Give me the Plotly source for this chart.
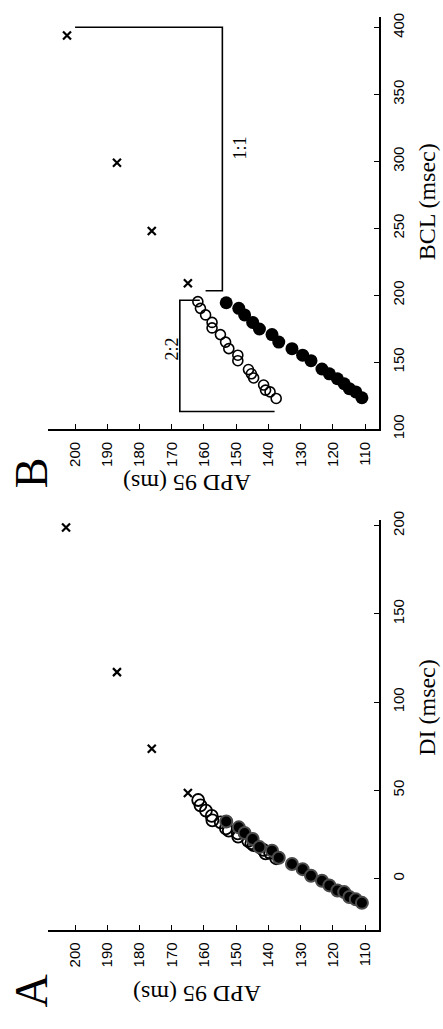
import plotly.graph_objects as go

# ---------------- data ----------------
# Panel B: APD95 against basic cycle length (BCL)
b_cross_apd = [202.5, 187.0, 176.2, 165.0]
b_cross_bcl = [394, 299, 248, 209]

b_long_apd = [161.9, 161.1, 159.5, 157.5, 157.5, 154.9, 153.3, 152.3, 149.5,
              149.5, 146.2, 145.3, 144.6, 141.5, 140.9, 139.5, 137.6]
b_long_bcl = [195.2, 190.2, 185.3, 179.7, 175.6, 170.6, 165.0, 160.1, 155.2,
              151.1, 144.5, 141.3, 138.2, 132.9, 129.1, 127.8, 122.9]

b_short_apd = [153.1, 149.2, 147.4, 144.9, 142.8, 138.9, 136.8, 132.7, 129.4,
               126.8, 123.4, 121.1, 118.6, 116.5, 114.9, 112.9, 111.0]
b_short_bcl = [194.4, 190.2, 185.3, 179.7, 174.8, 170.6, 165.0, 160.1, 155.2,
               151.1, 144.9, 141.3, 137.6, 133.9, 130.2, 127.8, 123.4]

# Panel A: APD95 against preceding diastolic interval (DI)
a_cross_apd = [202.8, 187.0, 176.2, 165.0]
a_cross_di = [199, 117, 73.6, 48.5]

a_long_apd = [161.8, 161.1, 159.4, 157.6, 157.4, 154.8, 153.2, 152.3, 149.5,
              149.4, 146.3, 145.3, 144.6, 141.6, 140.9, 139.5, 137.6]
a_long_di = [44.5, 41.5, 38.5, 35.5, 33.0, 31.8, 28.4, 27.2, 25.6,
             23.8, 21.4, 20.0, 18.9, 16.2, 14.3, 14.6, 11.5]

a_short_apd = [153.1, 149.2, 147.4, 144.9, 142.8, 138.9, 136.8, 132.7, 129.4,
               126.8, 123.4, 121.1, 118.6, 116.5, 114.9, 112.9, 111.0]
a_short_di = [32.3, 29.0, 25.8, 22.4, 17.8, 15.8, 11.8, 8.2, 5.3,
              1.6, -1.3, -3.9, -6.8, -7.7, -10.5, -11.8, -13.8]

apd_ticks = [110, 120, 130, 140, 150, 160, 170, 180, 190, 200]
bcl_ticks = [100, 150, 200, 250, 300, 350, 400]
di_ticks = [0, 50, 100, 150, 200]

# ---------------- styling ----------------
W, H = 443, 1029
SANS = "Liberation Sans, Arial, sans-serif"
SERIF = "Liberation Serif, Times New Roman, serif"

cross_marker = dict(symbol="x-thin", size=8, color="black",
                    line=dict(width=2.2, color="black"))
open_marker = dict(symbol="circle-open", size=10, color="black",
                   line=dict(width=1.6, color="black"))
filled_b_marker = dict(symbol="circle", size=13, color="black",
                       line=dict(width=0, color="black"))
open_a_marker = dict(symbol="circle", size=12, color="rgba(255,255,255,0.0)",
                     line=dict(width=1.8, color="black"))
filled_a_marker = dict(symbol="circle", size=12, color="black",
                       line=dict(width=2, color="#4a4a4a"))

fig = go.Figure()

# panel B traces (axes x / y)
fig.add_trace(go.Scatter(x=b_short_apd, y=b_short_bcl, mode="markers",
                         marker=filled_b_marker, xaxis="x", yaxis="y"))
fig.add_trace(go.Scatter(x=b_long_apd, y=b_long_bcl, mode="markers",
                         marker=open_marker, xaxis="x", yaxis="y"))
fig.add_trace(go.Scatter(x=b_cross_apd, y=b_cross_bcl, mode="markers",
                         marker=cross_marker, xaxis="x", yaxis="y"))

# panel A traces (axes x2 / y2)
fig.add_trace(go.Scatter(x=a_long_apd, y=a_long_di, mode="markers",
                         marker=open_a_marker, xaxis="x2", yaxis="y2"))
fig.add_trace(go.Scatter(x=a_short_apd, y=a_short_di, mode="markers",
                         marker=filled_a_marker, xaxis="x2", yaxis="y2"))
fig.add_trace(go.Scatter(x=a_cross_apd, y=a_cross_di, mode="markers",
                         marker=cross_marker, xaxis="x2", yaxis="y2"))


def px_x(p):
    return p / W


def px_y(p):
    return 1 - p / H


x_dom = [px_x(48), px_x(379)]

common_axis = dict(showline=True, linecolor="black", linewidth=1.5,
                   ticks="inside", ticklen=5, tickwidth=1.2, tickcolor="black",
                   showgrid=False, zeroline=False, mirror=False,
                   tickangle=-90, ticklabelstandoff=5,
                   tickfont=dict(family=SANS, size=15, color="black"))

fig.update_layout(
    width=W, height=H,
    margin=dict(l=0, r=0, t=0, b=0),
    paper_bgcolor="white", plot_bgcolor="white",
    showlegend=False,
    xaxis=dict(domain=x_dom, anchor="y", range=[208.4, 105.7],
               tickvals=apd_ticks, **common_axis),
    yaxis=dict(domain=[px_y(428), px_y(8)], anchor="x", side="right",
               range=[100, 408], tickvals=bcl_ticks, **common_axis),
    xaxis2=dict(domain=x_dom, anchor="y2", range=[208.4, 105.7],
                tickvals=apd_ticks, **common_axis),
    yaxis2=dict(domain=[px_y(938), px_y(521)], anchor="x2", side="right",
                range=[-29, 203], tickvals=di_ticks, **common_axis),
)

# rate-regime brackets in panel B
bracket_line = dict(color="black", width=1.6)
fig.add_shape(type="path", xref="x", yref="y", line=bracket_line,
              path="M 200,400.2 L 154.3,400.2 L 154.3,203.4 L 159.5,203.4")
fig.add_shape(type="path", xref="x", yref="y", line=bracket_line,
              path="M 161.3,196.3 L 167.5,196.3 L 167.5,113.2 L 138.1,113.2")


def label(text, x, y, size, family=SERIF, angle=-90):
    fig.add_annotation(text=text, xref="paper", yref="paper",
                       x=px_x(x), y=px_y(y), xanchor="center", yanchor="middle",
                       showarrow=False, textangle=angle,
                       font=dict(family=family, size=size, color="black"))


label("1:1", 240, 142, 18)
label("2:2", 172, 347, 18)

label("BCL (msec)", 427, 197, 24)
label("DI (msec)", 427, 712, 24)
label("APD 95 (ms)", 187, 483, 24, angle=180)
label("APD 95 (ms)", 197, 1003, 24, angle=180)

label("B", 31, 473, 46)
label("A", 32, 1000, 46)

fig.write_html("out.html")
